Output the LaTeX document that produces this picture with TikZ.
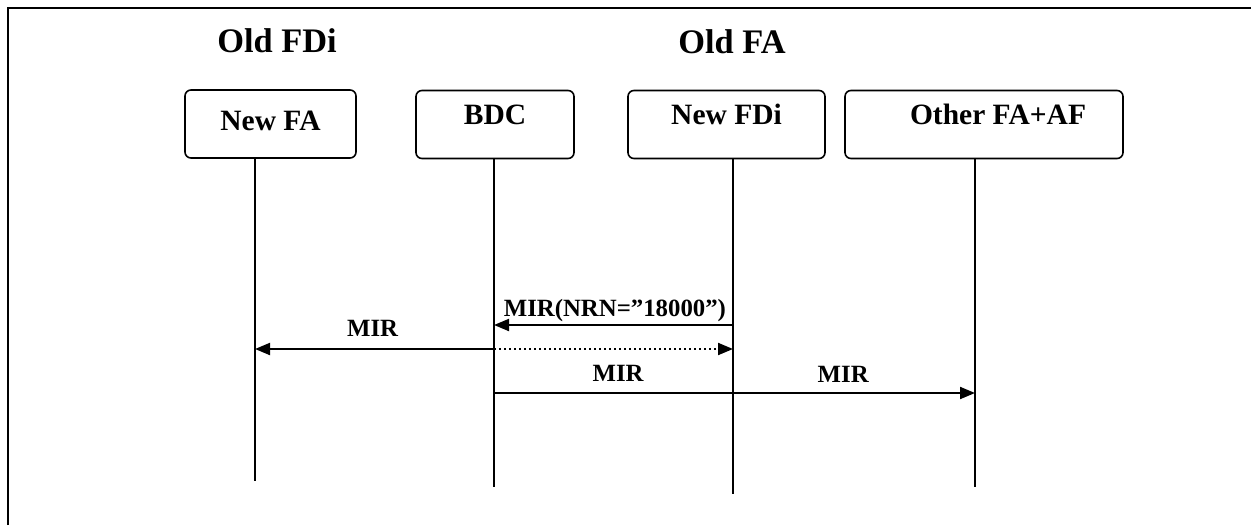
\documentclass[tikz,border=0pt]{standalone}
\usepackage{fontspec}
\setmainfont{Liberation Serif}
\usetikzlibrary{arrows.meta}
\begin{document}
\begin{tikzpicture}[x=0.5pt,y=-0.5pt,
  entity/.style={draw, line width=0.8pt, rounded corners=3pt, inner sep=0pt,
    minimum height=34pt, text height=8pt, text depth=8pt,
    font=\fontsize{14.75}{16}\selectfont\bfseries},
  title/.style={anchor=base, inner sep=0pt, font=\fontsize{17.2}{20}\selectfont\bfseries},
  lifeline/.style={line width=1pt},
  msg/.style={line width=1pt, -{Triangle[length=7.5pt,width=6pt]}},
  reply/.style={msg, dash pattern=on 0.9pt off 1.6pt},
  msglabel/.style={anchor=base, inner sep=0pt, font=\fontsize{12.4}{14}\selectfont\bfseries}]
\useasboundingbox (0,0) rectangle (1251,525);

% outer frame (top and left edges)
\coordinate (frameBL) at (8,525);
\coordinate (frameTL) at (8,8);
\coordinate (frameTR) at (1251,8);
\draw[line width=1.2pt] (frameBL) -- (frameTL) -- (frameTR);

% group titles
\node[title] (toldfdi) at (277,52) {Old FDi};
\node[title] (toldfa) at (732,53) {Old FA};

% entities
\node[entity, minimum width=85.5pt, text height=11pt, text depth=5pt] (nfa) at (270.5,124) {New FA};
\node[entity, minimum width=79pt] (bdc) at (495,124.5) {BDC};
\node[entity, minimum width=98.5pt] (nfdi) at (726.5,124.5) {New FDi};
\node[entity, minimum width=139pt] (oth) at (984,124.5) {\hspace*{14pt}Other FA+AF};

% lifelines
\coordinate (nfaT) at (255,158);  \coordinate (nfaB) at (255,481);
\coordinate (bdcT) at (494,158);  \coordinate (bdcB) at (494,487);
\coordinate (nfdiT) at (733,158); \coordinate (nfdiB) at (733,494);
\coordinate (othT) at (975,158);  \coordinate (othB) at (975,487);
\draw[lifeline] (nfaT) -- (nfaB);
\draw[lifeline] (bdcT) -- (bdcB);
\draw[lifeline] (nfdiT) -- (nfdiB);
\draw[lifeline] (othT) -- (othB);

% message levels
\coordinate (y1) at (0,325);
\coordinate (y2) at (0,349);
\coordinate (y3) at (0,393);

% messages
\draw[msg] (nfdiT |- y1) -- node[msglabel, pos=0.494, yshift=4.5pt] {MIR(NRN=”18000”)} (bdcT |- y1);
\draw[msg] (bdcT |- y2) -- node[msglabel, pos=0.508, yshift=6.5pt] {MIR} (nfaT |- y2);
\draw[reply] (bdcT |- y2) -- (nfdiT |- y2);
\draw[msg] (bdcT |- y3) -- node[msglabel, pos=0.258, yshift=6pt] {MIR}
                          node[msglabel, pos=0.726, yshift=5.5pt] {MIR} (othT |- y3);
\end{tikzpicture}
\end{document}
